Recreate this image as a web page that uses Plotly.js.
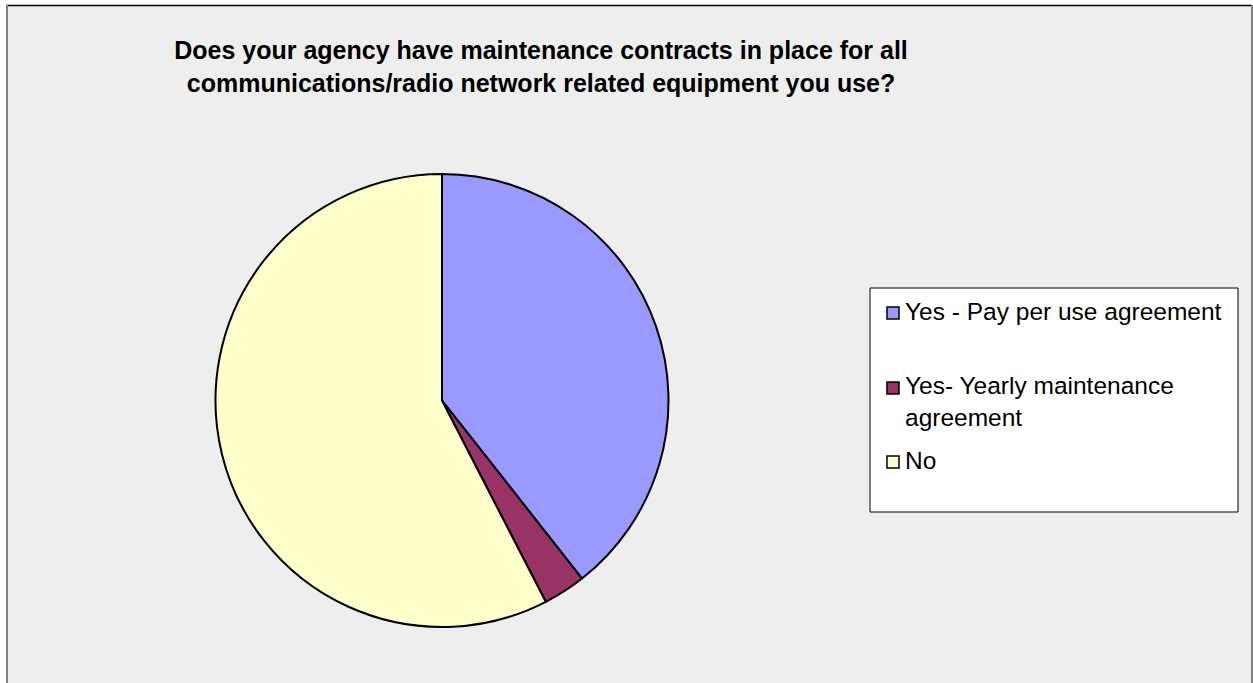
<!DOCTYPE html>
<html>
<head>
<meta charset="utf-8">
<script src="https://cdn.plot.ly/plotly-3.0.1.min.js"></script>
<style>html,body{margin:0;padding:0;background:#fff;}#chart{width:1253px;height:683px;}</style>
</head>
<body>
<div id="chart"></div>
<script>
const categories = ['Yes - Pay per use agreement', 'Yes- Yearly maintenance agreement', 'No'];
const legendText = ['Yes - Pay per use agreement', 'Yes- Yearly maintenance<br>agreement', 'No'];
const values = [13, 1, 19];
const colors = ['#9999FF', '#993366', '#FFFFCC'];
const titleText = 'Does your agency have maintenance contracts in place for all<br>communications/radio network related equipment you use?';

const W = 1253, H = 683;
const px = v => v / W;
const py = v => 1 - v / H;
const FONT = 'Liberation Sans, Arial, sans-serif';

const trace = {
  type: 'pie',
  labels: categories,
  values: values,
  sort: false,
  direction: 'clockwise',
  rotation: 0,
  textinfo: 'none',
  hoverinfo: 'label+value+percent',
  marker: {colors: colors, line: {color: '#000000', width: 2}},
  domain: {x: [px(215.5), px(668.5)], y: [py(627), py(174)]},
  showlegend: false
};

const shapes = [
  {type: 'rect', xref: 'paper', yref: 'paper', x0: px(6), x1: px(1252), y0: py(700), y1: py(5),
   fillcolor: '#EEEEEE', line: {width: 0}, layer: 'below'},
  {type: 'line', xref: 'paper', yref: 'paper', x0: px(6), x1: px(1252), y0: py(5.5), y1: py(5.5), line: {color: '#000000', width: 1.5}},
  {type: 'line', xref: 'paper', yref: 'paper', x0: px(7), x1: px(7), y0: py(5), y1: py(700), line: {color: '#808080', width: 2}},
  {type: 'line', xref: 'paper', yref: 'paper', x0: px(1252), x1: px(1252), y0: py(5), y1: py(700), line: {color: '#808080', width: 2}},
  {type: 'rect', xref: 'paper', yref: 'paper', x0: px(870), x1: px(1238), y0: py(512), y1: py(288),
   fillcolor: '#FFFFFF', line: {color: '#000000', width: 1}}
];

const entryCenters = [313, 387, 462];
const annotations = [];
categories.forEach((c, i) => {
  const cy = entryCenters[i];
  const mc = i === 1 ? 388 : cy;
  shapes.push({type: 'rect', xref: 'paper', yref: 'paper', x0: px(887), x1: px(899), y0: py(mc + 6), y1: py(mc - 6),
    fillcolor: colors[i], line: {color: '#000000', width: 1.5}});
  annotations.push({xref: 'paper', yref: 'paper', x: px(903), y: py(cy - 16.9), xanchor: 'left', yanchor: 'top',
    text: legendText[i], showarrow: false, align: 'left', font: {family: FONT, size: 24.5, color: '#000000'}});
});

const layout = {
  width: W, height: H,
  margin: {l: 0, r: 0, t: 0, b: 0},
  paper_bgcolor: '#FFFFFF',
  plot_bgcolor: 'rgba(0,0,0,0)',
  title: {text: titleText, x: 541 / W, xanchor: 'center', xref: 'paper', y: 1 - 59 / H, yanchor: 'top', yref: 'container',
    font: {family: FONT, size: 25, color: '#000000', weight: 'bold'}},
  shapes: shapes,
  annotations: annotations,
  showlegend: false
};

Plotly.newPlot('chart', [trace], layout, {displayModeBar: false, staticPlot: true});
</script>
</body>
</html>
